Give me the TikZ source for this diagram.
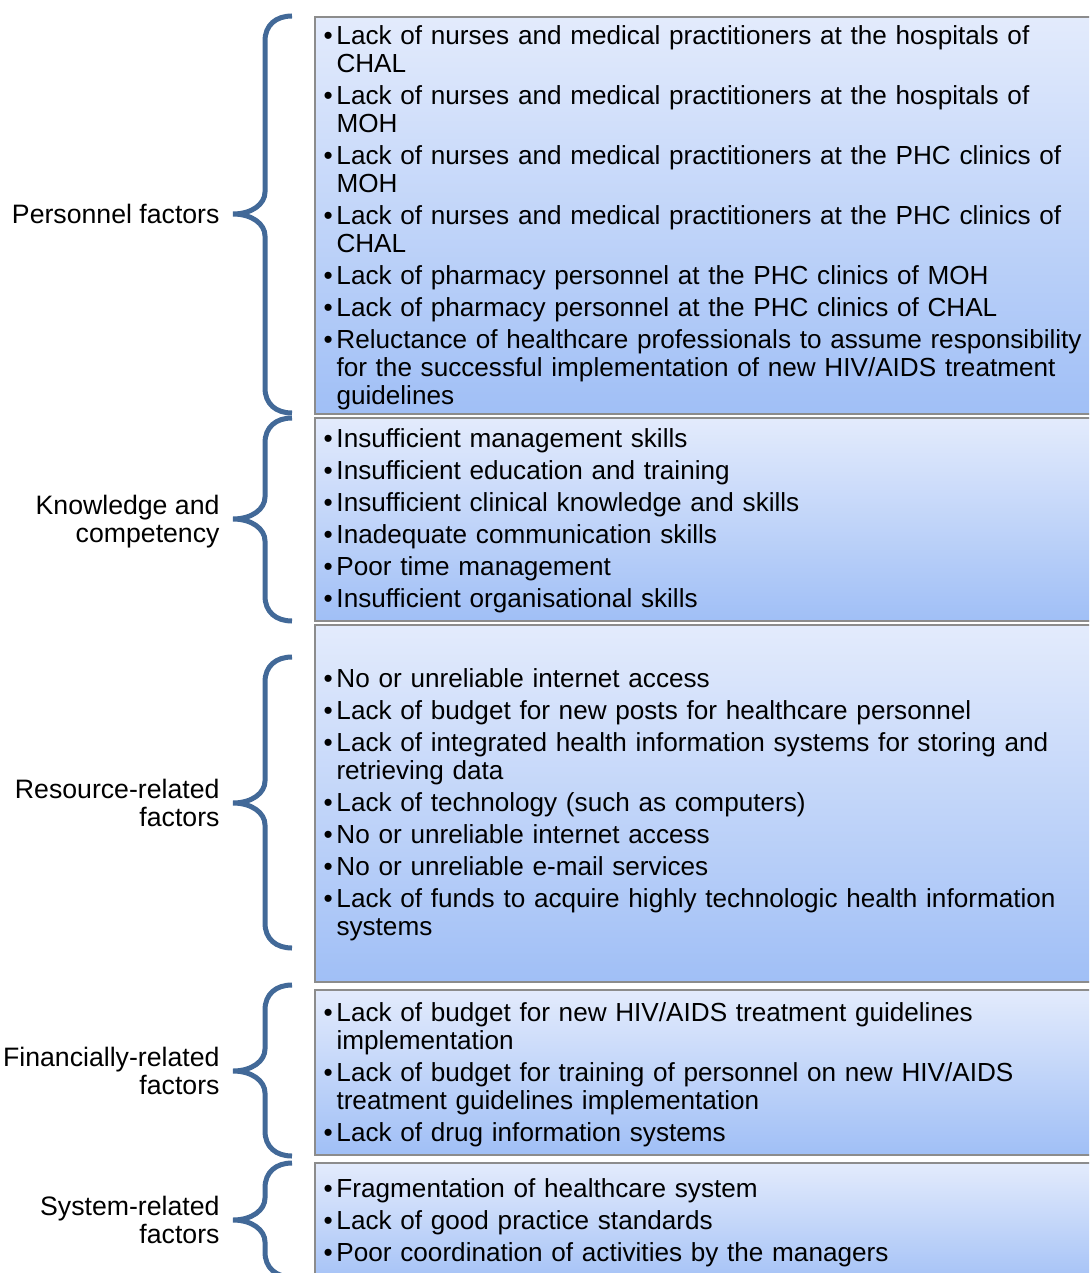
\documentclass[tikz,border=0pt]{standalone}
\usepackage{fontspec}
\setmainfont{Liberation Sans}

\definecolor{braceblue}{RGB}{66,105,152}
\definecolor{paneltop}{RGB}{227,235,252}
\definecolor{panelbot}{RGB}{160,191,246}
\definecolor{panelrule}{RGB}{140,140,140}

\newcommand{\bitem}{\par\hangindent=9.75pt\hangafter=1\noindent\makebox[9.75pt][l]{\textbullet}}

\tikzset{every picture/.style={line width=0.75pt}}
\tikzset{
  panel/.style={draw=panelrule, line width=1.5pt, top color=paneltop, bottom color=panelbot},
  sidebrace/.style={draw=braceblue, line width=3.75pt, line cap=butt},
  items/.style={anchor=west, inner sep=0pt, text width=600pt, font=\fontsize{19.6}{21}\selectfont,
    execute at begin node={\setlength{\parskip}{3pt}\lineskiplimit=-100pt\raggedright}},
  factor/.style={anchor=east, inner sep=0pt, align=right, font=\fontsize{20}{21}\selectfont}
}

\begin{document}
\begin{tikzpicture}[x=0.75pt,y=0.75pt,yscale=-1,xscale=1]
\useasboundingbox (0,0) rectangle (1089,1273);
\clip (0,0) rectangle (1089,1273);

%Shape: Rectangle [personnel]
\draw [panel] (315,17) rectangle (1100,414) ;
%Shape: Rectangle [knowledge]
\draw [panel] (315,418) rectangle (1100,621) ;
%Shape: Rectangle [resources]
\draw [panel] (315,625) rectangle (1100,982) ;
%Shape: Rectangle [finance]
\draw [panel] (315,990) rectangle (1100,1155) ;
%Shape: Rectangle [system]
\draw [panel] (315,1163) rectangle (1100,1290) ;

%Shape: Brace [personnel]
\draw [sidebrace] (292,16) .. controls (276,16) and (265,25) .. (265,41) -- (265,192) .. controls (265,204) and (252,214) .. (233,214) .. controls (252,214) and (265,224) .. (265,236) -- (265,388) .. controls (265,404) and (276,413) .. (292,413) ;
%Shape: Brace [knowledge]
\draw [sidebrace] (292,418) .. controls (276,418) and (265,427) .. (265,443) -- (265,497) .. controls (265,509) and (252,519) .. (233,519) .. controls (252,519) and (265,529) .. (265,541) -- (265,596) .. controls (265,612) and (276,621) .. (292,621) ;
%Shape: Brace [resources]
\draw [sidebrace] (292,657) .. controls (276,657) and (265,666) .. (265,682) -- (265,781) .. controls (265,793) and (252,803) .. (233,803) .. controls (252,803) and (265,813) .. (265,825) -- (265,923) .. controls (265,939) and (276,948) .. (292,948) ;
%Shape: Brace [finance]
\draw [sidebrace] (292,985) .. controls (276,985) and (265,994) .. (265,1010) -- (265,1049) .. controls (265,1061) and (252,1071) .. (233,1071) .. controls (252,1071) and (265,1081) .. (265,1093) -- (265,1131) .. controls (265,1147) and (276,1156) .. (292,1156) ;
%Shape: Brace [system]
\draw [sidebrace] (292,1163) .. controls (276,1163) and (265,1172) .. (265,1188) -- (265,1198) .. controls (265,1210) and (252,1220) .. (233,1220) .. controls (252,1220) and (265,1230) .. (265,1242) -- (265,1252) .. controls (265,1268) and (276,1277) .. (292,1277) ;

% Text Node
\draw (220,214) node (personnel) [factor] {Personnel factors};
% Text Node
\draw (220,522) node (knowledge) [factor] {Knowledge and\\competency};
% Text Node
\draw (220,803) node (resources) [factor] {Resource-related\\factors};
% Text Node
\draw (220,1071) node (finance) [factor] {Financially-related\\factors};
% Text Node
\draw (220,1220) node (system) [factor] {System-related\\factors};

% Text Node
\draw (323,211) node (personnellist) [items] {%
\bitem Lack of nurses and medical practitioners at the hospitals of\newline CHAL
\bitem Lack of nurses and medical practitioners at the hospitals of\newline MOH
\bitem Lack of nurses and medical practitioners at the PHC clinics of\newline MOH
\bitem Lack of nurses and medical practitioners at the PHC clinics of\newline CHAL
\bitem Lack of pharmacy personnel at the PHC clinics of MOH
\bitem Lack of pharmacy personnel at the PHC clinics of CHAL
\bitem Reluctance of healthcare professionals to assume responsibility\newline for the successful implementation of new HIV/AIDS treatment\newline guidelines\par};
% Text Node
\draw (323,514) node (knowledgelist) [items] {%
\bitem Insufficient management skills
\bitem Insufficient education and training
\bitem Insufficient clinical knowledge and skills
\bitem Inadequate communication skills
\bitem Poor time management
\bitem Insufficient organisational skills\par};
% Text Node
\draw (323,798) node (resourcelist) [items] {%
\bitem No or unreliable internet access
\bitem Lack of budget for new posts for healthcare personnel
\bitem Lack of integrated health information systems for storing and\newline retrieving data
\bitem Lack of technology (such as computers)
\bitem No or unreliable internet access
\bitem No or unreliable e-mail services
\bitem Lack of funds to acquire highly technologic health information\newline systems\par};
% Text Node
\draw (323,1068) node (financelist) [items] {%
\bitem Lack of budget for new HIV/AIDS treatment guidelines\newline implementation
\bitem Lack of budget for training of personnel on new HIV/AIDS\newline treatment guidelines implementation
\bitem Lack of drug information systems\par};
% Text Node
\draw (323,1216) node (systemlist) [items] {%
\bitem Fragmentation of healthcare system
\bitem Lack of good practice standards
\bitem Poor coordination of activities by the managers\par};

\end{tikzpicture}
\end{document}
